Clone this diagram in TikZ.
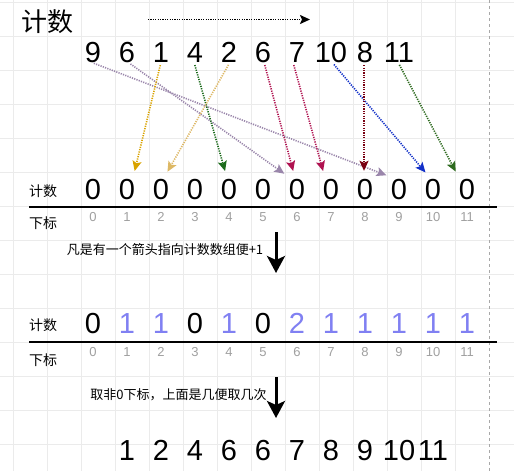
\documentclass[tikz,border=0pt]{standalone}
\usepackage{fontspec}
\setmainfont{Liberation Sans}
\newfontfamily\cjk{Noto Sans CJK SC}
\usetikzlibrary{arrows.meta}
\definecolor{gridc}{HTML}{EBEBEB}
\definecolor{pageln}{HTML}{A8A8A8}
\definecolor{idxc}{HTML}{A0A0A0}
\definecolor{valblue}{HTML}{8080F2}
\definecolor{cpurple}{HTML}{9A86AB}
\definecolor{cgold}{HTML}{D9A300}
\definecolor{ctan}{HTML}{DDB865}
\definecolor{cgreen}{HTML}{1B6B1B}
\definecolor{ccrimson}{HTML}{B01250}
\definecolor{cdarkred}{HTML}{7A0012}
\definecolor{cblue}{HTML}{1230C8}
\definecolor{cgreenb}{HTML}{2D6A1E}
\tikzset{
  big/.style={font=\fontsize{29}{29}\selectfont, inner sep=0pt, text height=21pt, text depth=0pt, anchor=base},
  idx/.style={font=\fontsize{13}{13}\selectfont, text=idxc, inner sep=0pt},
  lbl/.style={font=\cjk\fontsize{14}{14}\selectfont, inner sep=0pt},
  note/.style={font=\cjk\fontsize{13}{13}\selectfont, inner sep=0pt},
  flow/.style={dash pattern=on 1.2pt off 1.2pt, line width=1.6pt,
    -{Stealth[length=10pt,width=9pt,inset=2pt]}, shorten <=3pt, shorten >=7pt},
  bigarrow/.style={line width=3pt, -{Stealth[length=17pt,width=18pt,inset=4pt]}},
  baseline rule/.style={line width=1.6pt}
}
\begin{document}
\begin{tikzpicture}[x=1pt,y=-1pt]
\useasboundingbox (0,0) rectangle (514,471);
\fill[white] (0,0) rectangle (514,471);
% grid
\foreach \x in {13,47,...,455} \draw[gridc,line width=0.8pt] (\x,0) -- (\x,471);
\foreach \y in {2,36,...,444} \draw[gridc,line width=0.8pt] (0,\y) -- (514,\y);
\draw[pageln,dashed,line width=0.6pt] (489,0) -- (489,471);

% title
\node[font=\cjk\fontsize{26}{26}\selectfont, inner sep=0pt] (title) at (47,22) {计数};
\coordinate (dirA) at (148,19.5);
\coordinate (dirB) at (310,19.5);
\draw[dash pattern=on 1.2pt off 1.2pt, line width=1.6pt, -{Stealth[length=10pt,width=9pt,inset=2pt]}] (dirA) -- (dirB);

% top sequence
\foreach \v [count=\i] in {9,6,1,4,2,6,7,10,8,11}
  \node[big] (t\i) at ({93+34*(\i-1)},62) {\v};

% zero row
\foreach \i in {0,...,11}
  \node[big] (z\i) at ({93+34*\i},199) {0};
\node[lbl] (cA) at (43,191) {计数};
\node[lbl] (xA) at (43,223) {下标};
\coordinate (lA1) at (29,207);
\coordinate (lA2) at (497,207);
\draw[baseline rule] (lA1) -- (lA2);
\foreach \i in {0,...,11}
  \node[idx] (iA\i) at ({93+34*\i},217) {\i};

% colored arrows
\draw[flow,cpurple] ([xshift=-2pt]t1.south) -- ([xshift=-6pt]z9.north);
\draw[flow,cpurple] ([xshift=1pt]t2.south) -- ([xshift=-7pt]z6.north);
\draw[flow,cgold] (t3.south) -- ([xshift=6pt]z1.north);
\draw[flow,cgreen] ([xshift=-1pt]t4.south) -- ([xshift=-2pt]z4.north);
\draw[flow,ctan] ([xshift=1pt]t5.south) -- ([xshift=3pt]z2.north);
\draw[flow,ccrimson] ([xshift=1pt]t6.south) -- ([xshift=-2pt]z6.north);
\draw[flow,ccrimson] ([xshift=-4pt]t7.south) -- ([xshift=-6pt]z7.north);
\draw[flow,cblue] ([xshift=1pt]t8.south) -- ([xshift=-3pt]z10.north);
\draw[flow,cdarkred] ([xshift=-1pt]t9.south) -- ([xshift=-1pt]z8.north);
\draw[flow,cgreenb] ([xshift=-1pt]t10.south) -- ([xshift=-8pt]z11.north);

% step 1
\node[note] (n1) at (165,250) {凡是有一个箭头指向计数数组便+1};
\coordinate (b1s) at (276,232);
\coordinate (b1e) at (276,273);
\draw[bigarrow] (b1s) -- (b1e);

% count row
\foreach \v [count=\i from 0] in {0,1,1,0,1,0,2,1,1,1,1,1} {
  \ifnum\v=0
    \node[big] (c\i) at ({93+34*\i},333) {\v};
  \else
    \node[big,text=valblue] (c\i) at ({93+34*\i},333) {\v};
  \fi
}
\node[lbl] (cB) at (43,325) {计数};
\node[lbl] (xB) at (43,360) {下标};
\coordinate (lB1) at (29,342);
\coordinate (lB2) at (497,342);
\draw[baseline rule] (lB1) -- (lB2);
\foreach \i in {0,...,11}
  \node[idx] (iB\i) at ({93+34*\i},352) {\i};

% step 2
\node[note] (n2) at (178.5,395) {取非0下标，上面是几便取几次};
\coordinate (b2s) at (276,377);
\coordinate (b2e) at (276,418);
\draw[bigarrow] (b2s) -- (b2e);

% result
\foreach \v [count=\i from 0] in {1,2,4,6,6,7,8,9,10,11}
  \node[big] (r\i) at ({127+34*\i},460) {\v};
\end{tikzpicture}
\end{document}
